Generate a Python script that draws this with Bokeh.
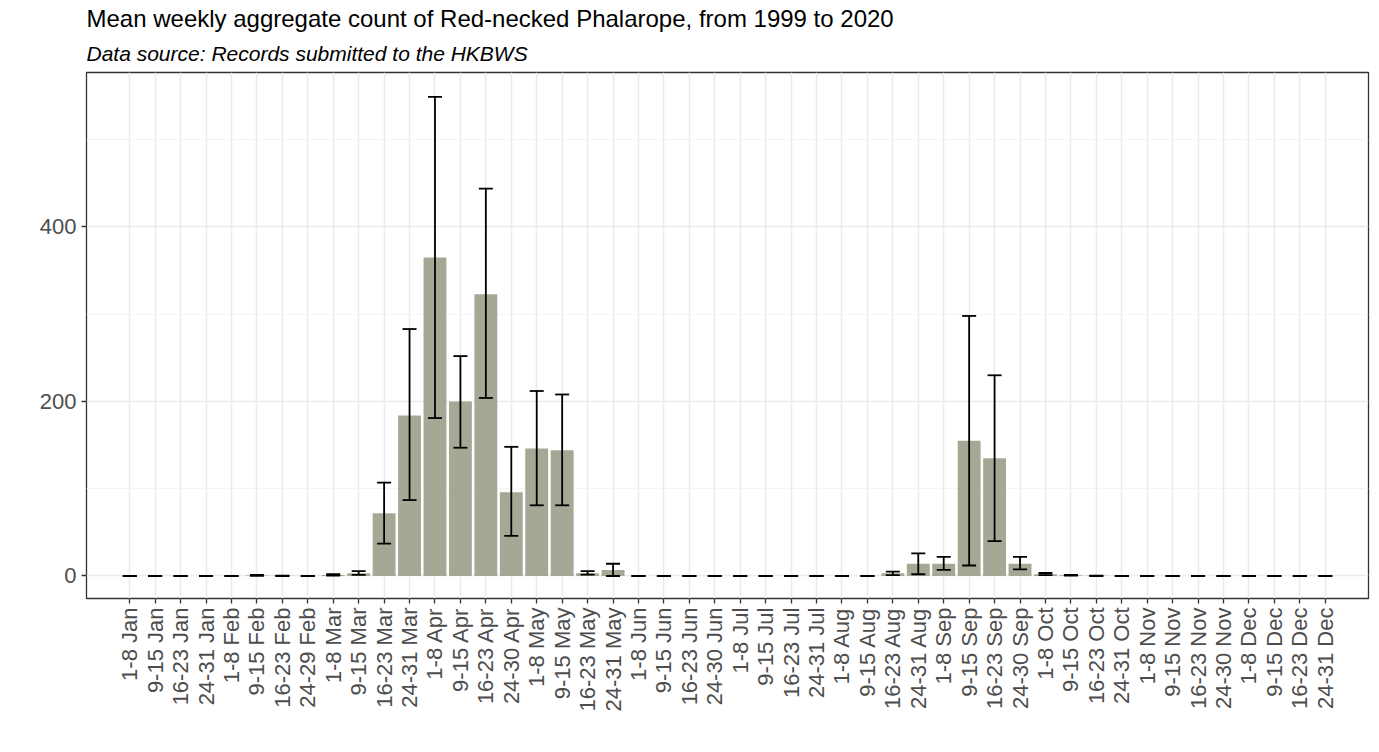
import math
from bokeh.plotting import figure
from bokeh.models import (ColumnDataSource, FactorRange, Range1d, Whisker, TeeHead,
                          FixedTicker, Title)
from bokeh.embed import file_html
from bokeh.resources import INLINE

months = ["Jan", "Feb", "Mar", "Apr", "May", "Jun",
          "Jul", "Aug", "Sep", "Oct", "Nov", "Dec"]
last_week = ["24-31", "24-29", "24-31", "24-30", "24-31", "24-30",
             "24-31", "24-31", "24-30", "24-31", "24-30", "24-31"]
weeks = []
for m, lw in zip(months, last_week):
    for w in ["1-8", "9-15", "16-23", lw]:
        weeks.append(f"{w} {m}")

mean_count = [0, 0, 0, 0,
              0, 0.6, 0.2, 0,
              1.2, 3, 72, 184,
              365, 200, 323, 96,
              146, 144, 3, 7,
              0, 0, 0, 0,
              0, 0, 0, 0,
              0, 0, 3, 14,
              14, 155, 135, 14,
              2, 0.8, 0.2, 0,
              0, 0, 0, 0,
              0, 0, 0, 0]
err_lower = [0, 0, 0, 0,
             0, 0.1, 0, 0,
             0.4, 1.2, 37, 87,
             181, 147, 204, 46,
             81, 81, 1.5, 0,
             0, 0, 0, 0,
             0, 0, 0, 0,
             0, 0, 1, 2,
             7, 12, 40, 7.5,
             1, 0.4, 0, 0,
             0, 0, 0, 0,
             0, 0, 0, 0]
err_upper = [0, 0, 0, 0,
             0, 1.2, 0.4, 0,
             2.0, 5.5, 107, 283,
             549, 252, 444, 148,
             212, 208, 5.5, 14,
             0, 0, 0, 0,
             0, 0, 0, 0,
             0, 0, 5, 26,
             22, 298, 230, 22,
             3.4, 1.2, 0.4, 0,
             0, 0, 0, 0,
             0, 0, 0, 0]
y_ticks = [0, 200, 400]
y_minor = [100, 300, 500]

src = ColumnDataSource(dict(week=weeks, mean=mean_count,
                            lower=err_lower, upper=err_upper))

p = figure(x_range=FactorRange(factors=weeks, range_padding=1.2,
                               range_padding_units="absolute"),
           y_range=Range1d(-25.8, 577),
           frame_width=1282, frame_height=526,
           min_border_left=86, min_border_right=3,
           min_border_top=72, min_border_bottom=146,
           output_backend="svg", toolbar_location=None,
           background_fill_color="white", border_fill_color="white")
p.title = None

p.vbar(x="week", top="mean", width=0.9, source=src,
       fill_color="#A6A896", line_color=None)

head_u = TeeHead(size=14, line_color="black", line_width=1.8)
head_l = TeeHead(size=14, line_color="black", line_width=1.8)
wh = Whisker(source=src, base="week", upper="upper", lower="lower",
             line_color="black", line_width=1.8, level="annotation",
             upper_head=head_u, lower_head=head_l)
p.add_layout(wh)

sub = Title(text="Data source: Records submitted to the HKBWS", align="left",
            text_font="Liberation Sans", text_font_size="21px",
            text_font_style="italic", text_color="black", standoff=16)
p.add_layout(sub, "above")
main = Title(text="Mean weekly aggregate count of Red-necked Phalarope, from 1999 to 2020",
             align="left", text_font="Liberation Sans", text_font_size="24px",
             text_font_style="normal", text_color="black", standoff=0)
p.add_layout(main, "above")

p.outline_line_color = "#333333"
p.outline_line_width = 1.3

p.xgrid.grid_line_color = "#EBEBEB"
p.xgrid.grid_line_width = 1.5
p.ygrid.ticker = FixedTicker(ticks=y_ticks, minor_ticks=y_minor)
p.ygrid.grid_line_color = "#EBEBEB"
p.ygrid.grid_line_width = 1.5
p.ygrid.minor_grid_line_color = "#F4F4F4"
p.ygrid.minor_grid_line_width = 1

p.yaxis.ticker = FixedTicker(ticks=y_ticks, minor_ticks=y_minor)
p.axis.axis_line_color = None
p.axis.major_tick_line_color = "#333333"
p.axis.major_tick_line_width = 1.3
p.axis.major_tick_out = 5
p.axis.major_tick_in = 0
p.axis.minor_tick_line_color = None
p.axis.major_label_text_font = "Liberation Sans"
p.axis.major_label_text_font_size = "22px"
p.axis.major_label_text_color = "#4D4D4D"
p.yaxis.major_label_standoff = 5
p.xaxis.major_label_standoff = 4
p.xaxis.major_label_orientation = math.pi / 2

open("out.html", "w").write(file_html(p, INLINE))
